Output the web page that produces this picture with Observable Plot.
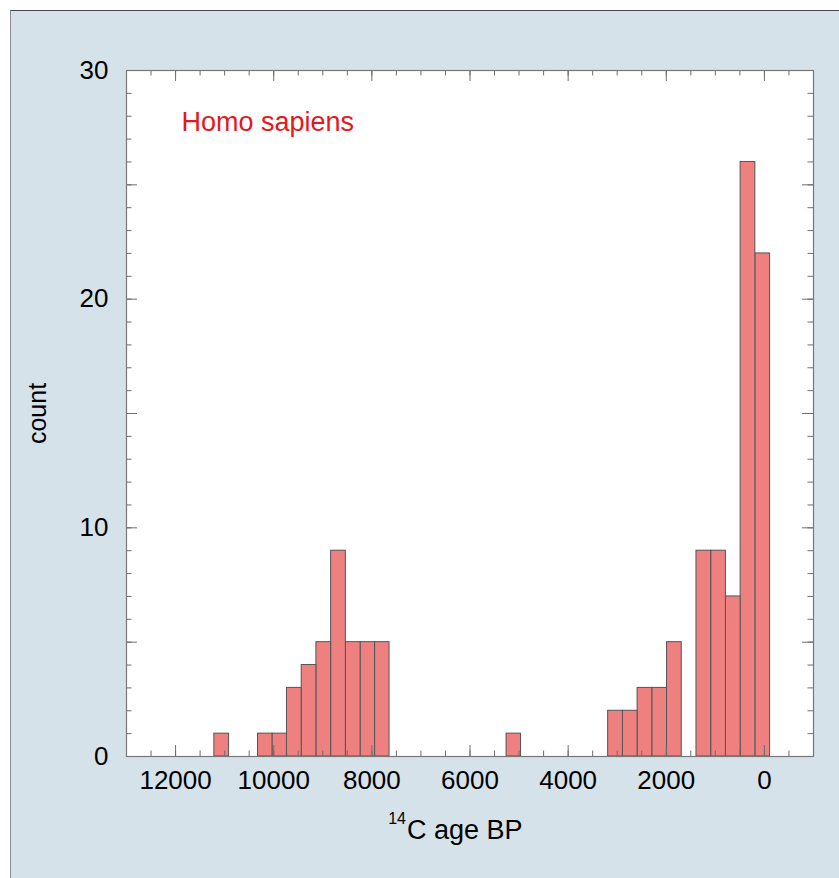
<!DOCTYPE html>
<html>
<head>
<meta charset="utf-8">
<script src="https://cdn.jsdelivr.net/npm/d3@7"></script>
<script src="https://cdn.jsdelivr.net/npm/@observablehq/plot@0.6"></script>
<style>
  html, body { margin: 0; padding: 0; background: #ffffff; width: 839px; height: 878px; overflow: hidden; }
  #panel { position: absolute; left: 10px; top: 10px; width: 829px; height: 868px; background: #d6e2ea;
           border-top: 1px solid #4a4a4a; border-left: 1px solid #8c8c8c; box-sizing: border-box; }
  #chart { position: absolute; left: 0; top: 0; }
</style>
</head>
<body>
<div id="panel"></div>
<div id="chart"></div>
<script>
// Histogram bins (14C age BP): lower edge, upper edge, count
const binLo  = [-115, 185, 485, 785, 1085, 1685, 1985, 2285, 2585, 2885, 4960, 7640, 7935, 8230, 8530, 8830, 9130, 9430, 9730, 10025, 10910];
const binHi  = [185, 485, 785, 1085, 1385, 1985, 2285, 2585, 2885, 3185, 5255, 7935, 8230, 8530, 8830, 9130, 9430, 9730, 10025, 10320, 11210];
const counts = [22, 26, 7, 9, 9, 5, 3, 3, 2, 2, 1, 5, 5, 5, 9, 5, 4, 3, 1, 1, 1];

const xTickLabels = [12000, 10000, 8000, 6000, 4000, 2000, 0];
const yTickLabels = [0, 10, 20, 30];
const xDomain = [13000, -1000];
const yDomain = [0, 30];
const speciesLabel = "Homo sapiens";
const yTitle = "count";
const xTitleSup = "14";
const xTitleMain = "C age BP";

const bins = binLo.map((lo, i) => ({lo, hi: binHi[i], count: counts[i]}));

const W = 839, H = 878;
const mL = 126, mR = 26, mT = 70, mB = 122;
const pxPerX = (W - mL - mR) / Math.abs(xDomain[0] - xDomain[1]);
const pxPerY = (H - mT - mB) / (yDomain[1] - yDomain[0]);

const xMinor = d3.range(-500, 12501, 500);
const xMajor = d3.range(0, 12001, 2000);
const yMinor = d3.range(1, 30, 1);
const yMajor = d3.range(5, 30, 5);

const majorLen = 11, minorLen = 5.5;
const tickColor = "#6e6e6e";

const xt = (len) => len / pxPerY; // x-tick length in y data units
const yt = (len) => len / pxPerX; // y-tick length in x data units

const plot = Plot.plot({
  width: W, height: H,
  marginLeft: mL, marginRight: mR, marginTop: mT, marginBottom: mB,
  style: {background: "transparent", fontFamily: "'Liberation Sans', Arial, Helvetica, sans-serif", fontSize: "26px", color: "#000"},
  x: {domain: xDomain, ticks: xTickLabels, tickSize: 0, tickPadding: 14, tickFormat: d => String(d), label: null},
  y: {domain: yDomain, ticks: yTickLabels, tickSize: 0, tickPadding: 18, tickFormat: d => String(d), label: null},
  marks: [
    Plot.frame({fill: "white", stroke: null}),
    Plot.rect(bins, {x1: "lo", x2: "hi", y1: 0, y2: "count", fill: "#ee8080", stroke: "#555", strokeWidth: 1, inset: 0}),
    // bottom ticks
    Plot.ruleX(xMinor, {x: d => d, y1: yDomain[0], y2: yDomain[0] + xt(minorLen), stroke: tickColor}),
    Plot.ruleX(xMajor, {x: d => d, y1: yDomain[0], y2: yDomain[0] + xt(majorLen), stroke: tickColor}),
    // top ticks
    Plot.ruleX(xMinor, {x: d => d, y1: yDomain[1], y2: yDomain[1] - xt(minorLen), stroke: tickColor}),
    Plot.ruleX(xMajor, {x: d => d, y1: yDomain[1], y2: yDomain[1] - xt(majorLen), stroke: tickColor}),
    // left ticks
    Plot.ruleY(yMinor, {y: d => d, x1: xDomain[0], x2: xDomain[0] - yt(minorLen), stroke: tickColor}),
    Plot.ruleY(yMajor, {y: d => d, x1: xDomain[0], x2: xDomain[0] - yt(majorLen), stroke: tickColor}),
    // right ticks
    Plot.ruleY(yMinor, {y: d => d, x1: xDomain[1], x2: xDomain[1] + yt(minorLen), stroke: tickColor}),
    Plot.ruleY(yMajor, {y: d => d, x1: xDomain[1], x2: xDomain[1] + yt(majorLen), stroke: tickColor}),
    Plot.frame({stroke: "#777", strokeWidth: 1.2}),
    Plot.text([speciesLabel], {frameAnchor: "top-left", dx: 55, dy: 60, textAnchor: "start", lineAnchor: "bottom", fill: "#e3191c", fontSize: 27}),
    Plot.text([yTitle], {frameAnchor: "left", dx: -89, rotate: -90, textAnchor: "middle", lineAnchor: "middle", fill: "#000", fontSize: 25}),
    Plot.text([xTitleMain], {frameAnchor: "bottom", dx: -63, dy: 82, textAnchor: "start", lineAnchor: "bottom", fill: "#000", fontSize: 27}),
    Plot.text([xTitleSup], {frameAnchor: "bottom", dx: -64, dy: 67, textAnchor: "end", lineAnchor: "bottom", fill: "#000", fontSize: 16})
  ]
});
document.getElementById("chart").appendChild(plot);
</script>
</body>
</html>
